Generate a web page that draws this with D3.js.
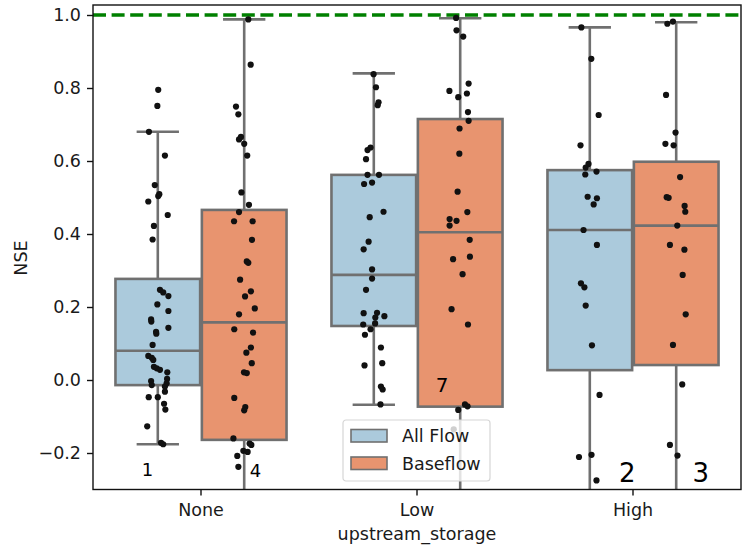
<!DOCTYPE html>
<html>
<head>
<meta charset="utf-8">
<script src="https://cdn.jsdelivr.net/npm/d3@7"></script>
<style>
  html, body { margin: 0; padding: 0; background: #fff; }
  svg { display: block; font-family: "DejaVu Sans", sans-serif; }
</style>
</head>
<body>
<svg id="chart" width="743" height="552"></svg>
<script>
// Categories and series
const categories = ["None", "Low", "High"];
const series = ["All Flow", "Baseflow"];

// Box statistics per category (NSE)
const allFlowWhiskerLow  = [-0.176, -0.068, -0.45];
const allFlowQ1          = [-0.014, 0.148, 0.027];
const allFlowMedian      = [0.080, 0.288, 0.411];
const allFlowQ3          = [0.277, 0.562, 0.575];
const allFlowWhiskerHigh = [0.680, 0.840, 0.966];

const baseflowWhiskerLow  = [-0.45, -0.45, -0.45];
const baseflowQ1          = [-0.164, -0.073, 0.041];
const baseflowMedian      = [0.158, 0.405, 0.423];
const baseflowQ3          = [0.466, 0.715, 0.598];
const baseflowWhiskerHigh = [0.988, 0.991, 0.980];

// Individual gauges: [NSE, strip jitter (category units)]
const allFlowNone = [[0.795,0.002],[0.751,-0.002],[0.680,-0.041],[0.615,0.033],[0.534,-0.014],[0.509,0.007],[0.504,0.002],[0.489,-0.044],[0.452,0.046],[0.422,-0.018],[0.385,-0.024],[0.247,0.010],[0.240,0.025],[0.230,0.049],[0.207,-0.002],[0.189,0.049],[0.166,-0.031],[0.160,-0.030],[0.143,0.049],[0.132,-0.008],[0.127,-0.007],[0.096,-0.024],[0.066,-0.044],[0.061,-0.028],[0.055,-0.021],[0.036,-0.018],[0.032,-0.005],[0.028,0.010],[0.021,0.044],[-0.003,-0.031],[-0.014,-0.028],[0.003,0.043],[-0.009,0.041],[-0.018,0.033],[-0.032,0.033],[-0.047,-0.042],[-0.047,0.000],[-0.065,0.029],[-0.081,0.035],[-0.127,-0.049],[-0.172,0.015],[-0.176,0.025]];
const baseflowNone = [[0.988,0.019],[0.864,0.030],[0.749,-0.038],[0.728,-0.027],[0.666,-0.015],[0.659,-0.024],[0.647,0.000],[0.615,0.014],[0.514,-0.013],[0.480,0.022],[0.460,-0.024],[0.435,-0.047],[0.435,0.039],[0.384,0.036],[0.325,0.012],[0.321,0.019],[0.275,-0.019],[0.243,0.031],[0.229,0.004],[0.196,0.049],[0.180,-0.024],[0.139,-0.046],[0.130,0.041],[0.089,0.031],[0.075,0.010],[0.046,0.035],[0.021,-0.001],[0.019,0.012],[-0.049,-0.046],[-0.074,0.005],[-0.083,0.000],[-0.160,-0.050],[-0.174,0.025],[-0.178,0.033],[-0.194,-0.004],[-0.197,0.016],[-0.208,-0.032],[-0.238,-0.027]];
const allFlowLow = [[0.838,-0.001],[0.802,0.010],[0.761,0.022],[0.753,0.018],[0.637,-0.015],[0.630,-0.029],[0.605,-0.036],[0.562,-0.029],[0.562,0.024],[0.537,-0.045],[0.541,-0.008],[0.461,0.045],[0.446,-0.019],[0.379,-0.024],[0.358,-0.047],[0.303,-0.008],[0.278,-0.008],[0.247,-0.036],[0.183,-0.047],[0.184,0.015],[0.171,0.007],[0.175,0.049],[0.152,-0.049],[0.155,0.006],[0.139,-0.015],[0.124,-0.041],[0.089,0.033],[0.040,-0.043],[0.046,0.039],[-0.018,0.033],[-0.026,0.041],[-0.067,0.031]];
const baseflowLow = [[0.992,-0.019],[0.958,-0.017],[0.941,0.014],[0.812,0.039],[0.792,-0.050],[0.785,0.031],[0.775,-0.009],[0.734,0.036],[0.710,0.039],[0.689,-0.003],[0.620,-0.004],[0.516,-0.012],[0.460,0.033],[0.441,-0.049],[0.436,-0.017],[0.423,-0.049],[0.384,0.044],[0.331,-0.033],[0.338,0.045],[0.290,0.011],[0.194,-0.040],[0.152,0.036],[-0.067,0.022],[-0.072,0.034],[-0.082,-0.009],[-0.135,-0.030]];
const allFlowHigh = [[0.966,-0.039],[0.880,0.007],[0.726,0.041],[0.643,-0.043],[0.592,-0.006],[0.582,-0.019],[0.563,-0.021],[0.571,0.031],[0.502,-0.010],[0.498,0.033],[0.481,0.018],[0.411,-0.029],[0.370,0.033],[0.265,-0.041],[0.254,-0.025],[0.204,-0.019],[0.095,0.010],[-0.041,0.045],[-0.211,-0.050],[-0.205,0.008],[-0.275,0.031]];
const baseflowHigh = [[0.982,-0.015],[0.976,-0.041],[0.781,-0.047],[0.678,-0.003],[0.647,-0.050],[0.643,-0.012],[0.556,0.018],[0.501,-0.044],[0.499,-0.035],[0.477,0.039],[0.461,0.042],[0.423,0.005],[0.370,-0.029],[0.357,0.038],[0.288,0.030],[0.180,0.044],[0.096,-0.015],[-0.012,0.028],[-0.178,-0.029],[-0.207,0.006]];

// Count annotations (text, category, series)
const countLabels = ["1", "4", "7", "2", "3"];

const yTicks = [-0.2, 0.0, 0.2, 0.4, 0.6, 0.8, 1.0];
const referenceNSE = 1.0;

// ---------------------------------------------------------------
const W = 743, H = 552;
const plot = { left: 93, right: 741, top: 5, bottom: 489.5 };
const colors = { "All Flow": "#abcadc", "Baseflow": "#e8946f" };
const lineGray = "#707070";
const textColor = "#1a1a1a";
const fontSize = 17.5;

const svg = d3.select("#chart");

const x = d3.scaleBand().domain(categories).range([plot.left, plot.right]).padding(0);
const xHue = d3.scaleBand().domain(series)
  .range([0.1 * x.bandwidth(), 0.9 * x.bandwidth()]).padding(0);
const y = d3.scaleLinear().domain([-0.3, 1.0274]).range([plot.bottom, plot.top]);

svg.append("defs").append("clipPath").attr("id", "plotClip")
  .append("rect")
  .attr("x", plot.left).attr("y", plot.top)
  .attr("width", plot.right - plot.left).attr("height", plot.bottom - plot.top);

const content = svg.append("g").attr("clip-path", "url(#plotClip)");

const boxStats = {
  "All Flow": categories.map((c, i) => ({
    cat: c, lo: allFlowWhiskerLow[i], q1: allFlowQ1[i], med: allFlowMedian[i],
    q3: allFlowQ3[i], hi: allFlowWhiskerHigh[i] })),
  "Baseflow": categories.map((c, i) => ({
    cat: c, lo: baseflowWhiskerLow[i], q1: baseflowQ1[i], med: baseflowMedian[i],
    q3: baseflowQ3[i], hi: baseflowWhiskerHigh[i] }))
};
const strips = {
  "All Flow": [allFlowNone, allFlowLow, allFlowHigh],
  "Baseflow": [baseflowNone, baseflowLow, baseflowHigh]
};

const boxW = xHue.bandwidth() * 0.98;
const centerOf = (cat, s) => x(cat) + xHue(s) + xHue.bandwidth() / 2;

// Boxes with whiskers
series.forEach(s => {
  boxStats[s].forEach(d => {
    const cx = centerOf(d.cat, s);
    const g = content.append("g");
    // whiskers
    g.append("line").attr("x1", cx).attr("x2", cx)
      .attr("y1", y(d.q3)).attr("y2", y(d.hi))
      .attr("stroke", lineGray).attr("stroke-width", 2.6);
    g.append("line").attr("x1", cx).attr("x2", cx)
      .attr("y1", y(d.q1)).attr("y2", y(d.lo))
      .attr("stroke", lineGray).attr("stroke-width", 2.6);
    // caps
    [d.hi, d.lo].forEach(v => {
      g.append("line").attr("x1", cx - boxW / 4).attr("x2", cx + boxW / 4)
        .attr("y1", y(v)).attr("y2", y(v))
        .attr("stroke", lineGray).attr("stroke-width", 2.6);
    });
    // box
    g.append("rect")
      .attr("x", cx - boxW / 2).attr("width", boxW)
      .attr("y", y(d.q3)).attr("height", y(d.q1) - y(d.q3))
      .attr("fill", colors[s]).attr("stroke", lineGray).attr("stroke-width", 2.6);
    // median
    g.append("line").attr("x1", cx - boxW / 2).attr("x2", cx + boxW / 2)
      .attr("y1", y(d.med)).attr("y2", y(d.med))
      .attr("stroke", lineGray).attr("stroke-width", 2.6);
  });
});

// Perfect-fit reference line
content.append("line")
  .attr("x1", plot.left).attr("x2", plot.right)
  .attr("y1", y(referenceNSE)).attr("y2", y(referenceNSE))
  .attr("stroke", "#008000").attr("stroke-width", 3.4)
  .attr("stroke-dasharray", "13,5.6");

// Strip points
series.forEach(s => {
  categories.forEach((c, i) => {
    content.append("g").selectAll("circle")
      .data(strips[s][i]).join("circle")
      .attr("cx", d => centerOf(c, s) + d[1] * x.bandwidth())
      .attr("cy", d => y(d[0]))
      .attr("r", 3.1)
      .attr("fill", "#111");
  });
});

// Count annotations
const countPlacement = [
  { cat: "None", s: "All Flow", v: -0.263, size: 18 },
  { cat: "None", s: "Baseflow", v: -0.266, size: 18 },
  { cat: "Low",  s: "Baseflow", v: -0.033, size: 20 },
  { cat: "High", s: "All Flow", v: -0.279, size: 26 },
  { cat: "High", s: "Baseflow", v: -0.279, size: 26 }
];
const countOffsets = [-10.3, 11.3, -18, 37.5, 24.6];
countLabels.forEach((t, i) => {
  const p = countPlacement[i];
  svg.append("text")
    .attr("x", centerOf(p.cat, p.s) + countOffsets[i])
    .attr("y", y(p.v))
    .attr("text-anchor", "middle")
    .attr("font-size", p.size)
    .attr("fill", "#000")
    .text(t);
});

// Axes frame
svg.append("rect")
  .attr("x", plot.left).attr("y", plot.top)
  .attr("width", plot.right - plot.left).attr("height", plot.bottom - plot.top)
  .attr("fill", "none").attr("stroke", "#111").attr("stroke-width", 1.4);

// Y axis
const yAxis = d3.axisLeft(y).tickValues(yTicks).tickSize(6).tickPadding(6)
  .tickFormat(d => d3.format(".1f")(d).replace("-", "\u2212"));
const yg = svg.append("g").attr("transform", `translate(${plot.left},0)`).call(yAxis);
yg.select(".domain").remove();
yg.selectAll(".tick line").attr("stroke", "#111").attr("stroke-width", 1.4);
yg.selectAll(".tick text").attr("font-size", fontSize).attr("fill", textColor)
  .attr("font-family", "DejaVu Sans");

// X axis
const xAxis = d3.axisBottom(x).tickSize(6).tickPadding(8);
const xg = svg.append("g").attr("transform", `translate(0,${plot.bottom})`).call(xAxis);
xg.select(".domain").remove();
xg.selectAll(".tick line").attr("stroke", "#111").attr("stroke-width", 1.4);
xg.selectAll(".tick text").attr("font-size", fontSize).attr("fill", textColor)
  .attr("font-family", "DejaVu Sans");

// Axis titles
svg.append("text")
  .attr("x", (plot.left + plot.right) / 2).attr("y", 540)
  .attr("text-anchor", "middle").attr("font-size", fontSize).attr("fill", textColor)
  .text("upstream_storage");
svg.append("text")
  .attr("transform", `translate(27,258) rotate(-90)`)
  .attr("text-anchor", "middle").attr("font-size", fontSize).attr("fill", textColor)
  .text("NSE");

// Legend
const legend = svg.append("g").attr("transform", "translate(343,420)");
legend.append("rect").attr("width", 147).attr("height", 61).attr("rx", 3)
  .attr("fill", "#fff").attr("fill-opacity", 0.8)
  .attr("stroke", "#d6d6d6").attr("stroke-width", 1.2);
series.forEach((s, i) => {
  const row = legend.append("g").attr("transform", `translate(8,${9.5 + i * 27.5})`);
  row.append("rect").attr("width", 36).attr("height", 12.5)
    .attr("fill", colors[s]).attr("stroke", lineGray).attr("stroke-width", 1.6);
  row.append("text").attr("x", 51).attr("y", 12.5)
    .attr("font-size", fontSize).attr("fill", textColor).text(s);
});
</script>
</body>
</html>
